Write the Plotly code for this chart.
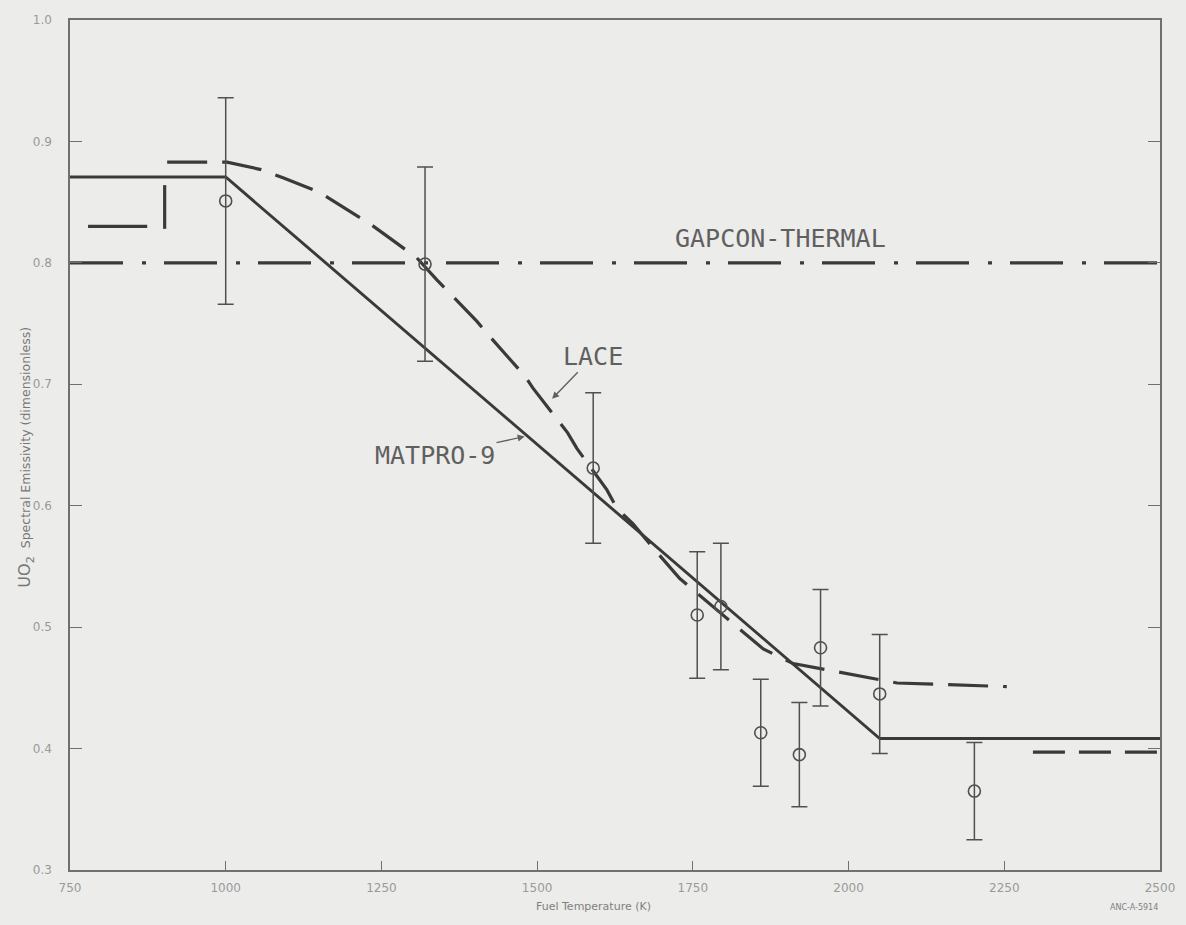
import plotly.graph_objects as go

# Measured spectral emissivity of UO2 (circles with error bars)
temp_k = [1000, 1320, 1590, 1757, 1795, 1859, 1921, 1955, 2050, 2202]
emissivity = [0.851, 0.799, 0.631, 0.510, 0.517, 0.413, 0.395, 0.483, 0.445, 0.365]
emis_err = [0.085, 0.080, 0.062, 0.052, 0.052, 0.044, 0.043, 0.048, 0.049, 0.040]

# MATPRO-9 correlation (piecewise linear)
matpro_t = [750, 1000, 2050, 2500]
matpro_e = [0.8707, 0.8707, 0.4083, 0.4083]

# LACE curve
lace_t = [906, 1002, 1055, 1092, 1151, 1179, 1232, 1259, 1307, 1339, 1403, 1421,
          1480, 1493, 1549, 1564, 1612, 1628, 1654, 1690, 1729, 1789, 1863, 1911,
          2002, 2078, 2254]
lace_e = [0.883, 0.883, 0.877, 0.870, 0.858, 0.849, 0.832, 0.822, 0.804, 0.786, 0.752, 0.741,
          0.707, 0.697, 0.660, 0.647, 0.613, 0.598, 0.585, 0.563, 0.540, 0.514, 0.482, 0.470,
          0.461, 0.454, 0.451]
# LACE low-temperature step and high-temperature branch
lace_low_t = [779, 874, None, 902, 902]
lace_low_e = [0.830, 0.830, None, 0.828, 0.864]
lace_high_t = [2296, 2500]
lace_high_e = [0.397, 0.397]

# GAPCON-THERMAL constant value
gapcon_t = [750, 2500]
gapcon_e = [0.80, 0.80]

y_ticks = [0.3, 0.4, 0.5, 0.6, 0.7, 0.8, 0.9, 1.0]
x_ticks = [750, 1000, 1250, 1500, 1750, 2000, 2250, 2500]

ink = "#3a3a3a"
bg = "#ececea"

fig = go.Figure()

fig.add_trace(go.Scatter(
    x=gapcon_t, y=gapcon_e, mode="lines",
    line=dict(color=ink, width=3.2, dash="53px,19px,4px,18px"),
    hoverinfo="skip", showlegend=False))

fig.add_trace(go.Scatter(
    x=matpro_t, y=matpro_e, mode="lines",
    line=dict(color=ink, width=2.9),
    hoverinfo="skip", showlegend=False))

fig.add_trace(go.Scatter(
    x=lace_t, y=lace_e, mode="lines",
    line=dict(color=ink, width=3.2, dash="40px,15px"),
    hoverinfo="skip", showlegend=False))

fig.add_trace(go.Scatter(
    x=lace_low_t, y=lace_low_e, mode="lines",
    line=dict(color=ink, width=3.2),
    hoverinfo="skip", showlegend=False))

fig.add_trace(go.Scatter(
    x=lace_high_t, y=lace_high_e, mode="lines",
    line=dict(color=ink, width=3.2, dash="32px,14px"),
    hoverinfo="skip", showlegend=False))

fig.add_trace(go.Scatter(
    x=temp_k, y=emissivity, mode="markers",
    marker=dict(symbol="circle-open", size=12, color="#505050", line=dict(width=1.6)),
    error_y=dict(type="data", array=emis_err, visible=True,
                 color="#505050", thickness=1.5, width=8),
    hoverinfo="skip", showlegend=False))

label_font = dict(family="DejaVu Sans Mono", size=25, color="#606060")
fig.add_annotation(x=1890, y=0.820, text="GAPCON-THERMAL", showarrow=False, font=label_font)

# Curve labels with leader arrows pointing at their curves
fig.add_annotation(x=1524, y=0.688, ax=1590, ay=0.723, axref="x", ayref="y",
                   text="LACE", showarrow=True, font=label_font, standoff=0,
                   arrowhead=2, arrowsize=1, arrowwidth=1.4, arrowcolor="#606060")
fig.add_annotation(x=1480, y=0.657, ax=1336, ay=0.641, axref="x", ayref="y",
                   text="MATPRO-9", showarrow=True, font=label_font, standoff=0,
                   arrowhead=2, arrowsize=1, arrowwidth=1.4, arrowcolor="#606060")

# Axis titles
fig.add_annotation(xref="paper", yref="y", x=0, y=0.64, xshift=-57,
                   textangle=-90, showarrow=False,
                   text="<span style='font-size:16px'>UO<sub>2</sub></span>  Spectral Emissivity (dimensionless)",
                   font=dict(family="DejaVu Sans", size=12.5, color="#777777"))
fig.add_annotation(xref="x", yref="paper", x=1591, y=0, yshift=-45,
                   text="Fuel Temperature (K)", showarrow=False,
                   font=dict(family="DejaVu Sans", size=11, color="#808080"))
fig.add_annotation(xref="paper", yref="paper", x=1, y=0, yshift=-44, xanchor="right",
                   text="ANC-A-5914", showarrow=False,
                   font=dict(family="DejaVu Sans", size=8, color="#808080"))

axis_common = dict(
    showgrid=False, zeroline=False,
    showline=True, linecolor="#707070", linewidth=1.5,
    ticks="inside", tickcolor="#707070", tickwidth=1.3,
    tickfont=dict(family="DejaVu Sans", size=12, color="#9a9a9a"),
)

fig.update_xaxes(range=[750, 2500], tickvals=x_ticks, ticklen=9,
                 mirror=True, ticklabelstandoff=6, **axis_common)
fig.update_yaxes(range=[0.3, 1.0], tickvals=y_ticks, tickformat=".1f", ticklen=12,
                 mirror="ticks", ticklabelstandoff=14, **axis_common)

fig.update_layout(
    width=1186, height=925,
    margin=dict(l=70, r=26, t=20, b=55),
    paper_bgcolor=bg, plot_bgcolor=bg,
    showlegend=False,
)

fig.write_html("out.html")
